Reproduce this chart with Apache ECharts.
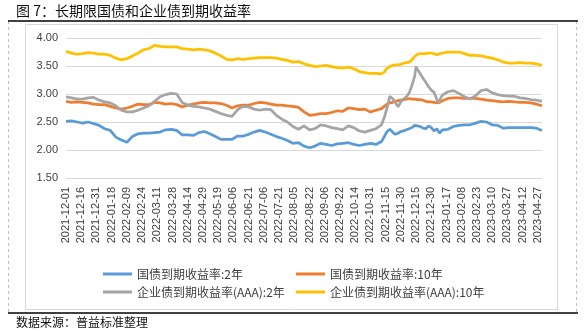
<!DOCTYPE html>
<html>
<head>
<meta charset="utf-8">
<script src="https://cdn.jsdelivr.net/npm/echarts@6/dist/echarts.min.js"></script>
<style>
html,body{margin:0;padding:0;background:#fff;}
#c{width:587px;height:331px;}
</style>
</head>
<body>
<div id="c"></div>
<script>
// ---- data ----
const titleText = '图 7：长期限国债和企业债到期收益率';
const sourceText = '数据来源：普益标准整理';
const seriesNames = ['国债到期收益率:2年', '国债到期收益率:10年', '企业债到期收益率(AAA):2年', '企业债到期收益率(AAA):10年'];
const startDate = '2021-12-01';
const pointCount = 345;
const holidays = ['2022-01-03','2022-01-31','2022-02-01','2022-02-02','2022-02-03','2022-02-04',
  '2022-04-04','2022-04-05','2022-05-02','2022-05-03','2022-05-04','2022-06-03','2022-09-12',
  '2022-10-03','2022-10-04','2022-10-05','2022-10-06','2022-10-07','2023-01-02',
  '2023-01-23','2023-01-24','2023-01-25','2023-01-26','2023-01-27','2023-04-05',
  '2023-05-01','2023-05-02','2023-05-03'];
const yTicks = [1.5, 2.0, 2.5, 3.0, 3.5, 4.0];

const sampleIdx = [0,4,8,12,16,20,24,28,32,36,40,44,48,52,56,60,64,68,72,76,80,84,
  88,92,96,100,104,108,112,116,120,124,128,132,136,140,144,148,152,156,160,164,168,172,
  176,180,184,188,192,196,200,204,208,212,216,220,224,228,
  230,232,234,236,238,240,242,244,246,248,250,252,
  253,254,
  256,258,260,262,264,266,268,
  269,270,
  272,
  276,280,284,288,292,296,300,304,308,312,316,320,324,328,332,336,340,344];

const gov2y = [2.51,2.52,2.50,2.48,2.50,2.47,2.44,2.38,2.35,2.23,2.18,2.14,2.24,2.29,2.30,2.30,2.31,2.32,2.36,2.37,2.35,2.27,
  2.27,2.26,2.31,2.33,2.29,2.24,2.19,2.19,2.19,2.25,2.25,2.28,2.32,2.35,2.32,2.28,2.24,2.21,2.17,2.12,2.13,2.07,
  2.04,2.07,2.12,2.10,2.08,2.11,2.12,2.13,2.10,2.08,2.10,2.12,2.10,2.15,
  2.24,2.33,2.37,2.32,2.28,2.30,2.33,2.34,2.36,2.38,2.40,2.44,
  2.46,2.43,
  2.42,2.39,2.38,2.43,2.40,2.34,2.38,
  2.34,2.30,
  2.36,
  2.37,2.42,2.44,2.45,2.45,2.48,2.51,2.50,2.45,2.44,2.39,2.40,2.40,2.40,2.40,2.40,2.39,2.35];

const gov10y = [2.87,2.85,2.86,2.85,2.84,2.82,2.81,2.81,2.78,2.75,2.73,2.75,2.78,2.82,2.81,2.81,2.85,2.84,2.82,2.83,2.81,2.77,
  2.80,2.82,2.84,2.85,2.84,2.84,2.83,2.80,2.75,2.79,2.80,2.80,2.83,2.85,2.84,2.82,2.80,2.80,2.79,2.78,2.76,2.68,
  2.62,2.63,2.65,2.65,2.67,2.70,2.69,2.75,2.74,2.72,2.73,2.68,2.71,2.74,
  2.78,2.82,2.84,2.85,2.87,2.88,2.89,2.90,2.91,2.92,2.91,2.91,
  2.90,2.90,
  2.90,2.89,2.87,2.86,2.86,2.85,2.84,
  2.84,2.85,
  2.88,
  2.92,2.93,2.93,2.92,2.92,2.92,2.91,2.89,2.88,2.87,2.86,2.87,2.86,2.85,2.85,2.84,2.82,2.79];

const aaa2y = [2.95,2.93,2.91,2.91,2.93,2.94,2.89,2.86,2.84,2.79,2.71,2.68,2.68,2.71,2.75,2.79,2.87,2.95,2.99,3.01,3.00,2.85,
  2.80,2.78,2.77,2.75,2.73,2.69,2.65,2.62,2.60,2.72,2.78,2.77,2.73,2.71,2.73,2.72,2.62,2.55,2.50,2.42,2.37,2.43,
  2.36,2.38,2.45,2.43,2.40,2.38,2.36,2.43,2.40,2.34,2.32,2.35,2.38,2.45,
  2.58,2.75,2.96,2.92,2.85,2.77,2.86,2.91,2.95,3.02,3.15,3.32,
  3.49,3.44,
  3.36,3.28,3.21,3.13,3.07,3.03,2.90,
  2.85,2.88,
  2.98,
  3.04,3.06,3.01,2.95,2.91,2.97,3.06,3.08,3.02,2.99,2.97,2.96,2.96,2.93,2.92,2.90,2.89,2.87];

const aaa10y = [3.76,3.73,3.71,3.72,3.74,3.73,3.71,3.71,3.69,3.64,3.61,3.63,3.68,3.73,3.79,3.81,3.87,3.85,3.84,3.84,3.84,3.81,
  3.80,3.79,3.80,3.79,3.77,3.73,3.68,3.62,3.61,3.63,3.62,3.63,3.64,3.65,3.65,3.65,3.64,3.62,3.60,3.57,3.58,3.54,
  3.51,3.49,3.50,3.51,3.49,3.47,3.46,3.48,3.45,3.40,3.38,3.37,3.37,3.36,
  3.39,3.46,3.49,3.51,3.52,3.52,3.53,3.55,3.56,3.57,3.61,3.67,
  3.70,3.71,
  3.72,3.72,3.72,3.73,3.73,3.72,3.70,
  3.70,3.72,
  3.73,
  3.75,3.75,3.75,3.72,3.69,3.69,3.68,3.66,3.64,3.61,3.57,3.55,3.55,3.56,3.55,3.55,3.54,3.51];

// ---- trading-day categories ----
function pad(n){return n<10?'0'+n:''+n;}
const categories = [];
(function(){
  const hs = new Set(holidays);
  const p = startDate.split('-').map(Number);
  let t = Date.UTC(p[0], p[1]-1, p[2]);
  while (categories.length < pointCount) {
    const d = new Date(t);
    const wd = d.getUTCDay();
    const s = d.getUTCFullYear() + '-' + pad(d.getUTCMonth()+1) + '-' + pad(d.getUTCDate());
    if (wd !== 0 && wd !== 6 && !hs.has(s)) categories.push(s);
    t += 86400000;
  }
})();

const colors = ['#5B9BD5', '#ED7D31', '#A5A5A5', '#FFC000'];
const valueSets = [gov2y, gov10y, aaa2y, aaa10y];
const CJK = '"Noto Sans CJK SC","Liberation Sans",sans-serif';

const chart = echarts.init(document.getElementById('c'), null, {renderer: 'canvas'});

const legendPos = [[103, 268], [296, 268], [103, 286], [296, 286]];

chart.setOption({
  animation: false,
  backgroundColor: '#fff',
  color: colors,
  grid: {left: 66, top: 38, width: 476, height: 140, containLabel: false},
  legend: seriesNames.map((n, i) => ({
    data: [n], left: legendPos[i][0], top: legendPos[i][1], padding: 0,
    icon: 'rect', itemWidth: 29, itemHeight: 3, itemGap: 0,
    textStyle: {fontFamily: CJK, fontSize: 12, color: '#404040', padding: [0,0,0,0]},
    selectedMode: false
  })),
  xAxis: {
    type: 'category', data: categories, boundaryGap: false,
    axisLine: {show: false}, axisTick: {show: false},
    axisLabel: {interval: 10, rotate: 90, fontSize: 11, fontFamily: '"Liberation Sans",Arial,sans-serif', color: '#404040', margin: 9},
    splitLine: {show: false}
  },
  yAxis: {
    type: 'value', min: 1.5, max: 4.0, interval: 0.5,
    axisLine: {show: false}, axisTick: {show: false},
    axisLabel: {formatter: v => v.toFixed(2), fontSize: 11, fontFamily: '"Liberation Sans",Arial,sans-serif', color: '#404040', margin: 8},
    splitLine: {lineStyle: {color: '#d9d9d9', width: 1}}
  },
  series: seriesNames.map((n, i) => ({
    name: n, type: 'line', showSymbol: false, symbol: 'none',
    data: sampleIdx.map((ix, k) => [ix, valueSets[i][k]]),
    lineStyle: {width: 2.75, color: colors[i]},
    itemStyle: {color: colors[i]},
    z: 2 + i
  })),
  graphic: [
    {type: 'rect', shape: {x: 25.5, y: 24.5, width: 532, height: 285}, style: {fill: 'none', stroke: '#d9d9d9', lineWidth: 1}, z: -1},
    {type: 'line', shape: {x1: 8.5, y1: 21, x2: 8.5, y2: 313}, style: {stroke: '#bfbfbf', lineWidth: 1, lineDash: [3, 3]}},
    {type: 'line', shape: {x1: 576.5, y1: 21, x2: 576.5, y2: 313}, style: {stroke: '#bfbfbf', lineWidth: 1, lineDash: [3, 3]}},
    {type: 'line', shape: {x1: 8, y1: 21, x2: 578, y2: 21}, style: {stroke: '#000', lineWidth: 1.5}},
    {type: 'line', shape: {x1: 8, y1: 313, x2: 578, y2: 313}, style: {stroke: '#000', lineWidth: 1.5}},
    {type: 'text', left: 16, top: 4, style: {text: titleText, font: '14px ' + CJK, fill: '#111'}},
    {type: 'text', left: 16, top: 316, style: {text: sourceText, font: '12px ' + CJK, fill: '#111'}}
  ]
});
</script>
</body>
</html>
